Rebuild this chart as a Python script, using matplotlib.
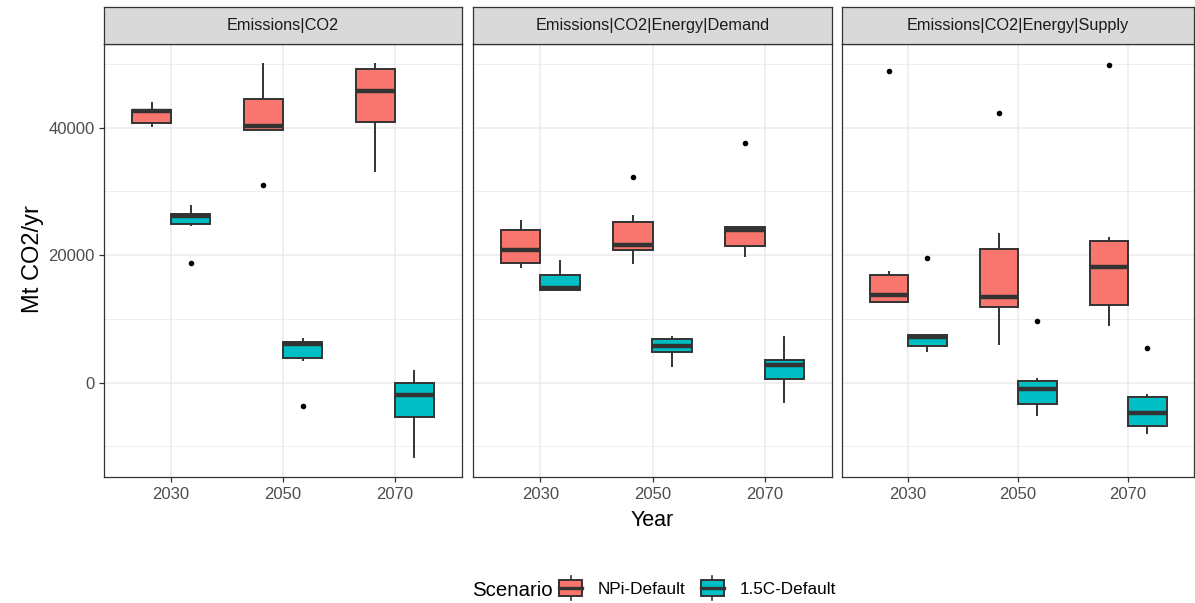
import matplotlib
matplotlib.use("Agg")
import matplotlib.pyplot as plt
from matplotlib.legend_handler import HandlerBase
from matplotlib.patches import Rectangle, Patch
from matplotlib.lines import Line2D

plt.rcParams['font.family'] = ['Liberation Sans', 'DejaVu Sans']

variables = ["Emissions|CO2", "Emissions|CO2|Energy|Demand", "Emissions|CO2|Energy|Supply"]
years = ["2030", "2050", "2070"]
scenarios = ["NPi-Default", "1.5C-Default"]
colors = ["#F8766D", "#00BFC4"]

# box stats, one row per variable, one value per year
npi_whislo = [[40200, 39600, 33200], [18200, 18800, 19800], [12600, 6100, 9000]]
npi_q1 = [[40700, 39600, 40800], [18800, 20800, 21500], [12600, 11900, 12100]]
npi_med = [[42600, 40200, 45800], [20800, 21600, 24000], [13800, 13400, 18200]]
npi_q3 = [[42800, 44400, 49200], [24000, 25200, 24400], [16900, 21000, 22200]]
npi_whishi = [[43800, 50000, 50000], [25400, 26100, 24400], [17400, 23300, 22600]]
npi_fliers = [[[], [31000], []], [[], [32200], [37600]], [[48900], [42300], [49800]]]

c15_whislo = [[24700, 3500, -11700], [14500, 2600, -3100], [4900, -5000, -7900]]
c15_q1 = [[24900, 3900, -5400], [14500, 4800, 500], [5800, -3400, -6800]]
c15_med = [[26100, 6000, -1900], [14900, 5700, 2700], [7200, -1000, -4700]]
c15_q3 = [[26500, 6400, -100], [16900, 6800, 3500], [7500, 300, -2300]]
c15_whishi = [[27700, 6800, 1800], [19100, 7100, 7200], [7500, 500, -1900]]
c15_fliers = [[[18800], [-3600], []], [[], [], []], [[19600], [9700], [5400]]]

series = [
    (npi_whislo, npi_q1, npi_med, npi_q3, npi_whishi, npi_fliers),
    (c15_whislo, c15_q1, c15_med, c15_q3, c15_whishi, c15_fliers),
]

edge = "#333333"
W = 1195
H = 603
fig = plt.figure(figsize=(W / 100, H / 100), dpi=100)

panels = [(104, 462), (473, 832), (842, 1194)]
top, bottom = 44, 477
strip_top = 7

box_w = 0.35
offsets = [-0.175, 0.175]

for v, (x0, x1) in enumerate(panels):
    ax = fig.add_axes([x0 / W, 1 - bottom / H, (x1 - x0) / W, (bottom - top) / H])
    for s, (wlo, q1, med, q3, whi, fl) in enumerate(series):
        stats = []
        for i in range(len(years)):
            stats.append(dict(whislo=wlo[v][i], q1=q1[v][i], med=med[v][i],
                              q3=q3[v][i], whishi=whi[v][i], fliers=fl[v][i]))
        pos = [i + 1 + offsets[s] for i in range(len(years))]
        ax.bxp(stats, positions=pos, widths=box_w, patch_artist=True,
               showcaps=False, manage_ticks=False,
               boxprops=dict(facecolor=colors[s], edgecolor=edge, linewidth=1.4),
               medianprops=dict(color=edge, linewidth=3.2, solid_capstyle='butt'),
               whiskerprops=dict(color=edge, linewidth=1.4),
               flierprops=dict(marker='o', markersize=3, markerfacecolor='black',
                               markeredgecolor='black'))
    ax.set_xlim(0.4, 3.6)
    ax.set_ylim(-14800, 53100)
    ax.set_xticks([1, 2, 3])
    ax.set_xticklabels(years)
    ax.set_yticks([0, 20000, 40000])
    ax.set_yticks([-10000, 10000, 30000, 50000], minor=True)
    ax.grid(True, which='major', color='#EBEBEB', linewidth=1.1)
    ax.grid(True, which='minor', axis='y', color='#EBEBEB', linewidth=0.6)
    ax.set_axisbelow(True)
    for sp in ax.spines.values():
        sp.set_color(edge)
        sp.set_linewidth(0.9)
    ax.tick_params(axis='x', colors=edge, length=3.5, width=0.9, labelsize=12,
                   labelcolor='#4D4D4D', pad=4)
    ax.tick_params(axis='y', which='minor', length=0)
    if v == 0:
        ax.tick_params(axis='y', colors=edge, length=3.5, width=0.9, labelsize=12,
                       labelcolor='#4D4D4D', pad=3)
        ax.set_yticklabels(["0", "20000", "40000"])
    else:
        ax.tick_params(axis='y', length=0, labelleft=False)

    sax = fig.add_axes([x0 / W, 1 - top / H, (x1 - x0) / W, (top - strip_top) / H])
    sax.set_facecolor('#D9D9D9')
    sax.set_xticks([])
    sax.set_yticks([])
    for sp in sax.spines.values():
        sp.set_color(edge)
        sp.set_linewidth(0.9)
    sax.text(0.5, 0.5, variables[v], ha='center', va='center', fontsize=11.7,
             color='#1A1A1A', transform=sax.transAxes)

fig.text(33 / W, 1 - 259 / H, "Mt CO2/yr", rotation=90, ha='center', va='center',
         fontsize=17, color='black')
fig.text(652 / W, 1 - 521 / H, "Year", ha='center', va='center', fontsize=15.5,
         color='black')


class BoxHandler(HandlerBase):
    def create_artists(self, legend, orig_handle, xdescent, ydescent, width, height,
                       fontsize, trans):
        x0 = -xdescent
        y0 = -ydescent
        xc = x0 + width / 2
        bh = height * 1.15
        by = y0 + (height - bh) / 2
        whisk_lo = Line2D([xc, xc], [by - 0.35 * height, by], color=edge, lw=1.2,
                          transform=trans)
        whisk_hi = Line2D([xc, xc], [by + bh, by + bh + 0.35 * height], color=edge,
                          lw=1.2, transform=trans)
        box = Rectangle((x0, by), width, bh, facecolor=orig_handle.get_facecolor(),
                        edgecolor=edge, lw=1.4, transform=trans)
        med = Line2D([x0, x0 + width], [by + bh / 2, by + bh / 2], color=edge, lw=2.4,
                     transform=trans)
        return [whisk_lo, whisk_hi, box, med]


handles = [Patch(facecolor=c, edgecolor=edge) for c in colors]
fig.text(472 / W, 1 - 590 / H, "Scenario", ha='left', va='center', fontsize=14.7,
         color='black')
fig.legend(handles, scenarios, handler_map={Patch: BoxHandler()}, ncol=2,
           loc='center left', bbox_to_anchor=(559 / W, 1 - 589 / H), frameon=False,
           borderpad=0, borderaxespad=0, fontsize=12.3, handlelength=1.35,
           handleheight=0.82, handletextpad=0.94, columnspacing=0.88)

fig.savefig("out.png", dpi=100)
